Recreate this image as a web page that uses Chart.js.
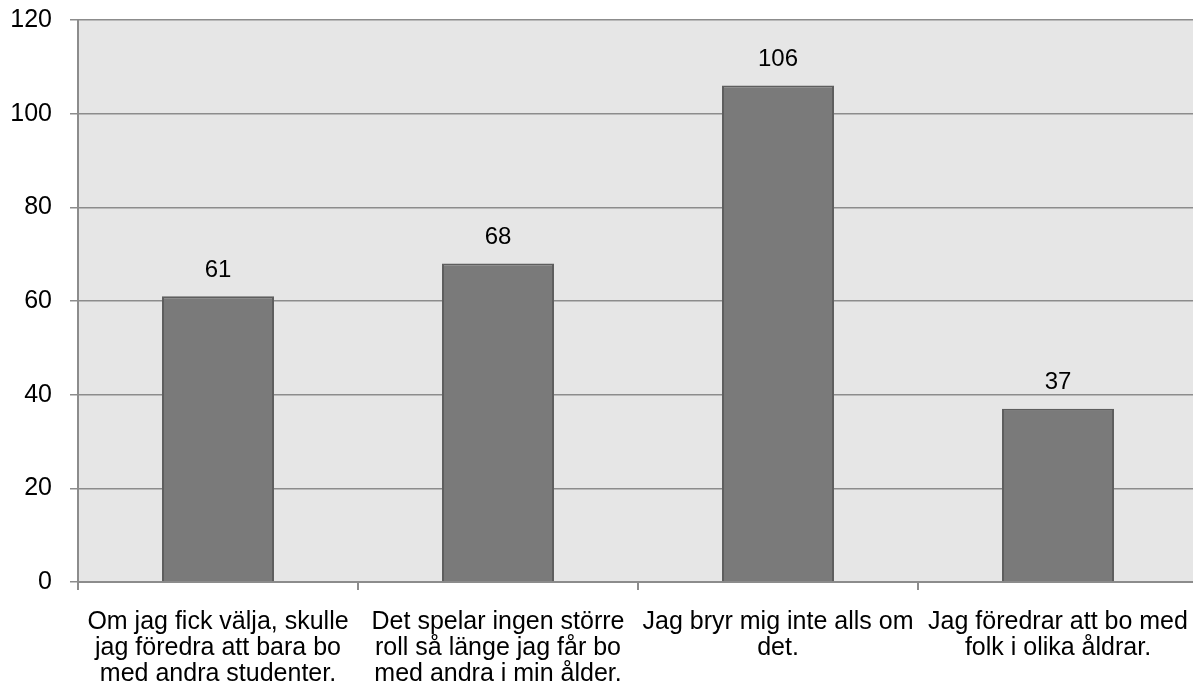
<!DOCTYPE html>
<html><head><meta charset="utf-8">
<script src="https://cdn.jsdelivr.net/npm/chart.js@4"></script>
<style>
html,body{margin:0;padding:0;background:#fff;overflow:hidden;}
#wrap{position:relative;width:1198px;height:693px;}
</style></head>
<body><div id="wrap"><canvas id="c"></canvas></div>
<script>
const categories = [
  ["Om jag fick välja, skulle","jag föredra att bara bo","med andra studenter."],
  ["Det spelar ingen större","roll så länge jag får bo","med andra i min ålder."],
  ["Jag bryr mig inte alls om","det."],
  ["Jag föredrar att bo med","folk i olika åldrar."]
];
const values = [61, 68, 106, 37];
const yTicks = [0, 20, 40, 60, 80, 100, 120];

const FONT = "'Liberation Sans', Arial, sans-serif";

const bgPlugin = {
  id: 'bg',
  beforeDraw(chart) {
    const {ctx, chartArea: a} = chart;
    ctx.save();
    ctx.fillStyle = '#e6e6e6';
    ctx.fillRect(a.left, a.top, a.right - a.left, a.bottom - a.top);
    ctx.restore();
  }
};
const labelPlugin = {
  id: 'vals',
  afterDatasetsDraw(chart) {
    const {ctx} = chart;
    const meta = chart.getDatasetMeta(0);
    ctx.save();
    ctx.font = '24px ' + FONT;
    ctx.fillStyle = '#000';
    ctx.textAlign = 'center';
    ctx.textBaseline = 'middle';
    meta.data.forEach((bar, i) => {
      ctx.fillText(String(values[i]), bar.x, bar.y - 26);
    });
    ctx.restore();
  }
};

new Chart(document.getElementById('c'), {
  type: 'bar',
  data: {
    labels: categories,
    datasets: [{
      data: values,
      backgroundColor: '#7a7a7a',
      borderColor: '#5e5e5e',
      borderWidth: 2,
      barPercentage: 1,
      categoryPercentage: 0.4
    }]
  },
  options: {
    responsive: true,
    maintainAspectRatio: false,
    animation: false,
    layout: {padding: {top: 20, left: 0, right: 0, bottom: 0}},
    plugins: {legend: {display: false}, tooltip: {enabled: false}},
    scales: {
      y: {
        min: 0, max: 120,
        afterBuildTicks(scale) { scale.ticks = yTicks.map(v => ({value: v})); },
        afterFit(scale) { scale.width = 78; scale.paddingTop = 0; scale.paddingBottom = 0; },
        ticks: {font: {size: 25, family: FONT}, color: '#000', padding: 18},
        grid: {color: '#8c8c8c', lineWidth: 1.5, tickLength: 8, tickColor: '#8c8c8c'},
        border: {color: '#8c8c8c', width: 2}
      },
      x: {
        afterFit(scale) { scale.height = 111; scale.paddingLeft = 0; scale.paddingRight = 0; },
        ticks: {font: {size: 25, family: FONT, lineHeight: 1.04}, color: '#000', padding: 19, maxRotation: 0, autoSkip: false},
        grid: {offset: true, drawOnChartArea: false, drawTicks: true, tickLength: 8, color: '#8c8c8c', lineWidth: 2},
        border: {color: '#8c8c8c', width: 2}
      }
    }
  },
  plugins: [bgPlugin, labelPlugin]
});
</script></body></html>
